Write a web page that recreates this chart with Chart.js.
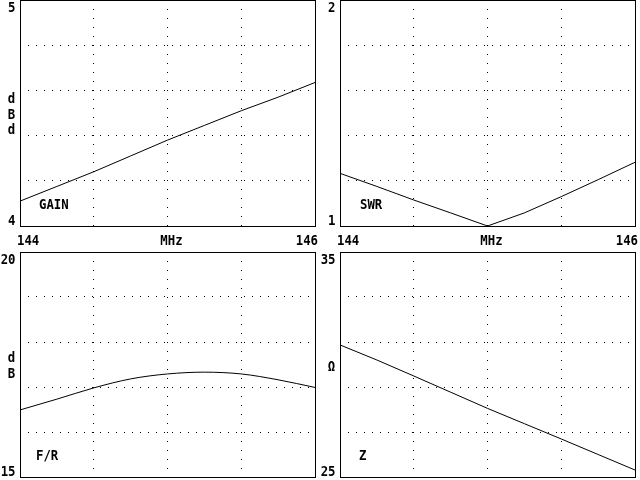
<!DOCTYPE html>
<html>
<head>
<meta charset="utf-8">
<script src="https://cdn.jsdelivr.net/npm/chart.js@4.4.0/dist/chart.umd.min.js"></script>
<style>
  html, body { margin: 0; padding: 0; background: #fff; }
  #wrap { position: relative; width: 640px; height: 480px; overflow: hidden; }
  #wrap canvas { position: absolute; }
</style>
</head>
<body>
<div id="wrap">
  <canvas id="gainChart" width="320" height="250" style="left:0;top:0"></canvas>
  <canvas id="swrChart" width="320" height="250" style="left:320px;top:0"></canvas>
  <canvas id="frChart" width="320" height="240" style="left:0;top:240px"></canvas>
  <canvas id="zChart" width="320" height="240" style="left:320px;top:240px"></canvas>
</div>
<script>
// Antenna sweep 144-146 MHz, four panels

var FREQ = [144, 144.25, 144.5, 144.75, 145, 145.25, 145.5, 145.75, 146];
var GAIN = [4.11, 4.175, 4.24, 4.31, 4.38, 4.445, 4.51, 4.57, 4.635];
var SWR = [1.233, 1.175, 1.115, 1.058, 1.0, 1.058, 1.13, 1.205, 1.282];
var FR = [16.49, 16.73, 16.98, 17.18, 17.29, 17.33, 17.29, 17.16, 16.99];
var Z = [30.87, 30.2, 29.49, 28.77, 28.05, 27.37, 26.69, 26.0, 25.31];

var X_LABELS = ['144', 'MHz', '146'];
var GAIN_TICKS = ['5', '4'];
var SWR_TICKS = ['2', '1'];
var FR_TICKS = ['20', '15'];
var Z_TICKS = ['35', '25'];

var FONT = 'bold 14px "DejaVu Sans Mono"';

function drawText(ctx, text, x, y, align) {
  ctx.save();
  ctx.translate(x, y);
  ctx.scale(0.88, 1);
  ctx.textAlign = align || 'left';
  ctx.textBaseline = 'alphabetic';
  ctx.fillText(text, 0, 0);
  ctx.restore();
}

// frame + text labels
var panelPlugin = {
  id: 'panel',
  afterDraw: function (chart) {
    var ctx = chart.ctx;
    var a = chart.chartArea;
    var o = chart.options.plugins.panel;
    var xs = chart.scales.x;
    ctx.save();
    ctx.strokeStyle = '#000';
    ctx.lineWidth = 1;
    ctx.strokeRect(a.left + 0.5, a.top + 0.5, a.right - a.left, a.bottom - a.top);
    ctx.fillStyle = '#000';
    ctx.font = FONT;
    drawText(ctx, o.ticks[0], a.left - 4.5, a.top + 12, 'right');
    drawText(ctx, o.ticks[1], a.left - 4.5, a.bottom - 1, 'right');
    for (var i = 0; i < o.unit.length; i++) {
      drawText(ctx, o.unit[i], 11.5, o.unitY + i * 15.5, 'center');
    }
    drawText(ctx, o.name, o.nameX, o.nameY, 'left');
    if (o.xLabels) {
      drawText(ctx, o.xLabels[0], xs.getPixelForValue(FREQ[0]) - 3, a.bottom + 19, 'left');
      drawText(ctx, o.xLabels[1], xs.getPixelForValue(145) + 4, a.bottom + 19, 'center');
      drawText(ctx, o.xLabels[2], xs.getPixelForValue(FREQ[FREQ.length - 1]) + 3, a.bottom + 19, 'right');
    }
    ctx.restore();
  }
};

function makeChart(id, values, yMin, yMax, yStep, pad, panel, smooth) {
  var pts = FREQ.map(function (f, i) { return { x: f, y: values[i] }; });
  return new Chart(document.getElementById(id).getContext('2d'), {
    type: 'line',
    data: {
      datasets: [{
        data: pts,
        borderColor: '#000',
        borderWidth: 1,
        pointRadius: 0,
        tension: smooth ? 0.4 : 0,
        cubicInterpolationMode: smooth ? 'monotone' : 'default',
        fill: false
      }]
    },
    options: {
      responsive: false,
      animation: false,
      devicePixelRatio: 1,
      layout: { padding: pad },
      plugins: {
        legend: { display: false },
        tooltip: { enabled: false },
        panel: panel
      },
      scales: {
        x: {
          type: 'linear',
          min: 144,
          max: 146,
          ticks: { display: false, stepSize: 0.5 },
          grid: { color: '#000', lineWidth: 1, drawTicks: false },
          border: { display: false, dash: [1, 8], dashOffset: 0 },
          afterFit: function (s) { s.height = 0; }
        },
        y: {
          min: yMin,
          max: yMax,
          ticks: { display: false, stepSize: yStep },
          grid: { color: '#000', lineWidth: 1, drawTicks: false },
          border: { display: false, dash: [1, 7], dashOffset: 0 },
          afterFit: function (s) { s.width = 0; }
        }
      }
    },
    plugins: [panelPlugin]
  });
}

var TOP_PAD = { left: 20, right: 5, top: 0, bottom: 24 };
var BOT_PAD = { left: 20, right: 5, top: 12, bottom: 3 };

makeChart('gainChart', GAIN, 4, 5, 0.2, TOP_PAD,
  { ticks: GAIN_TICKS, unit: ['d', 'B', 'd'], unitY: 103, name: 'GAIN', nameX: 39, nameY: 209, xLabels: X_LABELS });
makeChart('swrChart', SWR, 1, 2, 0.2, TOP_PAD,
  { ticks: SWR_TICKS, unit: [], unitY: 0, name: 'SWR', nameX: 40, nameY: 209, xLabels: X_LABELS });
makeChart('frChart', FR, 15, 20, 1, BOT_PAD,
  { ticks: FR_TICKS, unit: ['d', 'B'], unitY: 122, name: 'F/R', nameX: 36, nameY: 220 }, true);
makeChart('zChart', Z, 25, 35, 2, BOT_PAD,
  { ticks: Z_TICKS, unit: ['Ω'], unitY: 131, name: 'Z', nameX: 39, nameY: 220 });
</script>
</body>
</html>
